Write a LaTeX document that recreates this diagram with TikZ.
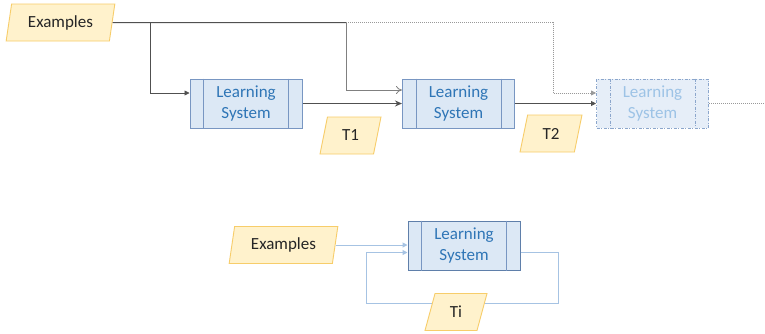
\documentclass[tikz,border=0pt]{standalone}
\usepackage{fontspec}
\setmainfont{Carlito}
\usetikzlibrary{shapes.geometric,arrows.meta,calc}
\definecolor{pfill}{HTML}{FFF2CC}
\definecolor{pdraw}{HTML}{F7CD6A}
\definecolor{lfill}{HTML}{DCE8F5}
\definecolor{ldraw}{HTML}{7896C2}
\definecolor{ltext}{HTML}{2E75B6}
\definecolor{ffill}{HTML}{E6EEF8}
\definecolor{fdraw}{HTML}{8BA6CC}
\definecolor{ftext}{HTML}{9DC3E6}
\definecolor{gline}{HTML}{808080}
\definecolor{dline}{HTML}{505050}
\definecolor{bline}{HTML}{A6C3E3}
\definecolor{bdraw}{HTML}{5F7FAA}
\tikzset{
  para/.style={trapezium, trapezium left angle=76, trapezium right angle=104,
    trapezium stretches=true, minimum width=#1, minimum height=37pt,
    fill=pfill, draw=pdraw, line width=0.9pt, inner sep=0pt,
    font=\fontsize{17}{20}\selectfont, text=black!85},
  para/.default=100pt,
  lsbox/.style={rectangle, minimum width=112pt, minimum height=49pt,
    fill=lfill, draw=ldraw, line width=1pt, inner sep=0pt, align=center,
    font=\fontsize{17}{20.5}\selectfont, text=ltext},
  fadedbox/.style={lsbox, fill=ffill, draw=fdraw, text=ftext,
    dash pattern=on 3pt off 1.5pt on 1pt off 1.5pt},
  conn/.style={draw=gline, line width=0.8pt},
  tipf/.style={-{Triangle[length=5pt,width=5pt]}},
  dotline/.style={draw=gline!80, line width=0.8pt, dash pattern=on 1pt off 1pt},
}
\begin{document}
\begin{tikzpicture}[x=1pt,y=-1pt]
\useasboundingbox[fill=white] (0,0) rectangle (765,333);
% nodes
\node[para=109pt] (ex1) at (60.5,22.5) {Examples};
\node[lsbox] (ls1) at (246,103.5) {Learning\\System};
\node[lsbox] (ls2) at (458.5,103.5) {Learning\\System};
\node[fadedbox] (ls3) at (652.5,103.5) {Learning\\System};
\node[para=61pt] (t1) at (350.5,135.5) {T1};
\node[para=62pt] (t2) at (551,133.5) {T2};
\node[para=109pt] (ex2) at (283.5,245) {Examples};
\node[lsbox, draw=bdraw] (ls4) at (464,245.5) {Learning\\System};
% inner bars
\foreach \n in {ls1,ls2,ls4}{
  \draw[draw=ldraw, line width=1pt] ([xshift=14pt]\n.north west) -- ([xshift=14pt]\n.south west);
  \draw[draw=ldraw, line width=1pt] ([xshift=-14pt]\n.north east) -- ([xshift=-14pt]\n.south east);
}
\draw[draw=fdraw, line width=1pt, dash pattern=on 3pt off 1.5pt on 1pt off 1.5pt]
  ([xshift=14pt]ls3.north west) -- ([xshift=14pt]ls3.south west)
  ([xshift=-14pt]ls3.north east) -- ([xshift=-14pt]ls3.south east);
% coordinates
\coordinate (j1) at (150,22.5);
\coordinate (j2) at (346,22.5);
\coordinate (j3) at (553,22.5);
\coordinate (e3) at (765,103.5);
% top connectors
\draw[conn, draw=dline, line width=1pt] (ex1.east) -- (j2);
\draw[conn, tipf, draw=dline] (j1) |- ($(ls1.west)+(0,-10.5)$);
\draw[conn, -{>[length=6pt,width=8pt]}] (j2) |- ($(ls2.west)+(0,-13.5)$);
\draw[dotline, tipf] (j2) -- (j3) |- ($(ls3.west)+(0,-10.5)$);
\draw[conn, draw=dline, line width=1.2pt, -{Stealth[length=7pt,width=6pt]}] (ls1.east) -- (ls2.west);
\draw[conn, draw=dline, tipf] (ls2.east) -- (ls3.west);
\draw[dotline] (ls3.east) -- (e3);
% bottom connectors
\coordinate (c1) at (558,252.5);
\coordinate (c2) at (366,303);
\draw[draw=bline, line width=1pt, -{Triangle[length=5pt,width=5pt]}] (ex2.east) -- (ex2.east -| ls4.west);
\draw[draw=bline, line width=1pt, -{Triangle[length=5pt,width=5pt]}]
  ($(ls4.east)+(0,7)$) -| (c1) |- (c2) |- ($(ls4.west)+(0,7)$);
\node[para=62pt] (ti) at (456,312) {Ti};
\end{tikzpicture}
\end{document}
